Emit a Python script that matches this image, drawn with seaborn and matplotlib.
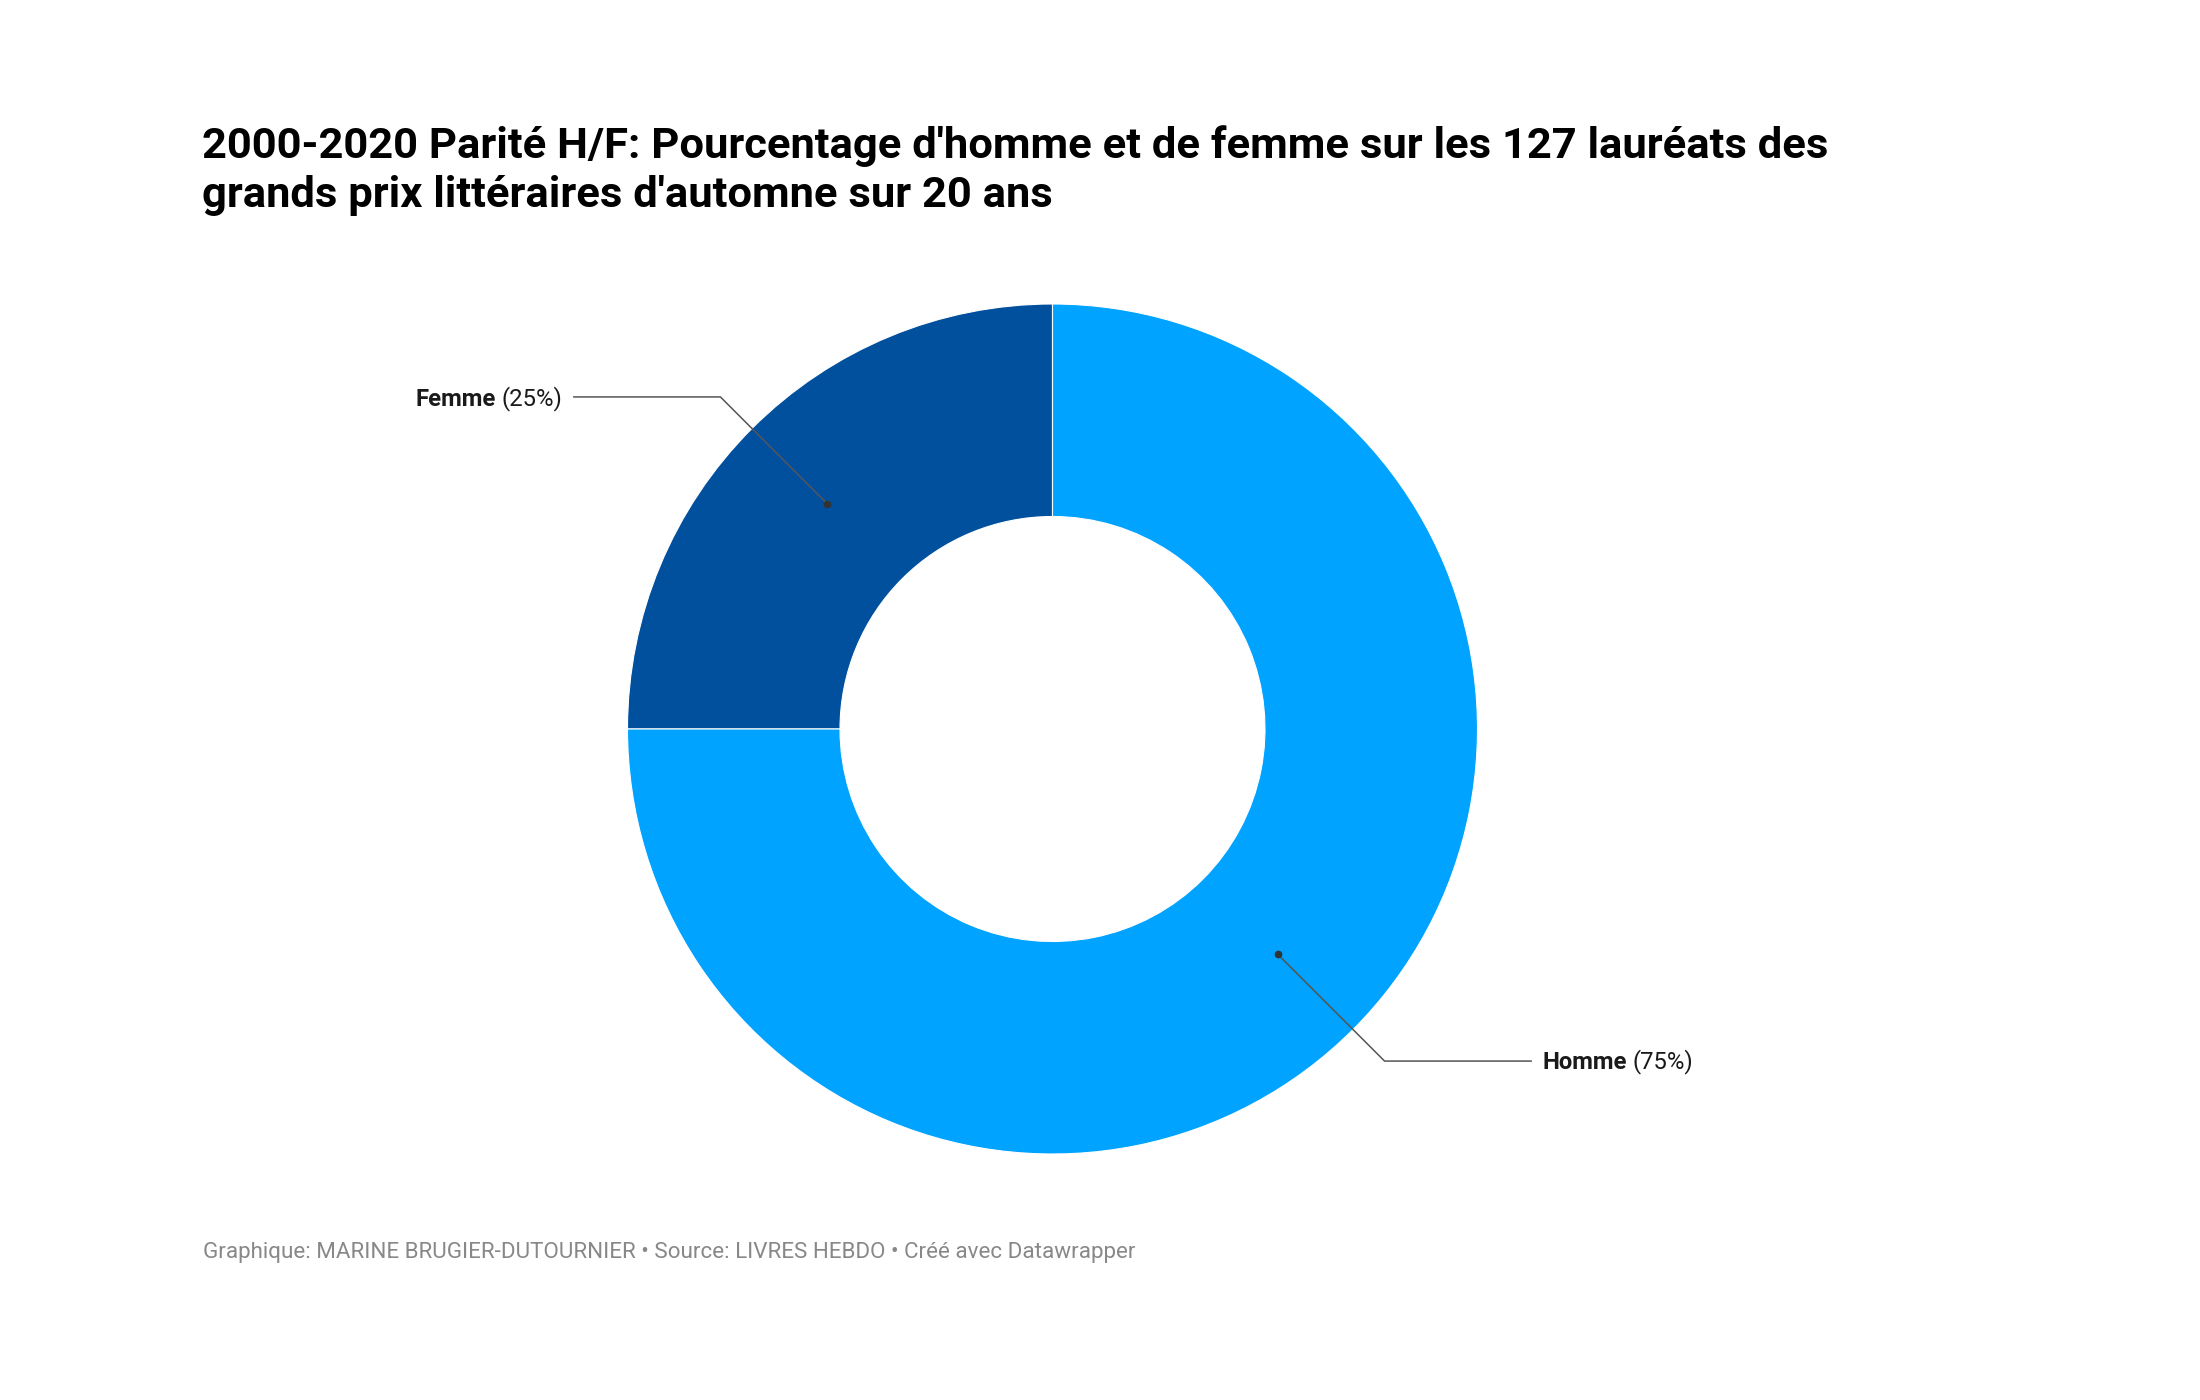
"""
Donut chart: share of men and women among the 127 autumn literary prize winners (2000-2020).
"""

import numpy as np
import matplotlib
matplotlib.use("Agg")
import matplotlib.pyplot as plt
import seaborn as sns

# data
categories = ["Femme", "Homme"]
shares = [25, 75]
colors = ["#00509e", "#00a3ff"]

title_lines = [
    "2000-2020 Parité H/F: Pourcentage d'homme et de femme sur les 127 lauréats des",
    "grands prix littéraires d'automne sur 20 ans",
]
footer = "Graphique: MARINE BRUGIER-DUTOURNIER • Source: LIVRES HEBDO • Créé avec Datawrapper"

sns.set_theme(style="white")
plt.rcParams["font.family"] = ["Roboto", "DejaVu Sans"]

W, H = 2200, 1400
fig = plt.figure(figsize=(W / 100, H / 100), dpi=100)
fig.patch.set_facecolor("white")

# axes over the whole figure, 1 unit = donut outer radius
cx, cy, R = 1052.5, 729, 425
ax = fig.add_axes([0, 0, 1, 1])

palette = sns.color_palette(colors)
wedges, _ = ax.pie(
    shares,
    colors=palette,
    startangle=90,
    counterclock=True,
    radius=1.0,
    wedgeprops=dict(width=0.5, edgecolor="white", linewidth=0.8),
)
# pie() resets the limits, so set them afterwards
ax.set_xlim(-cx / R, (W - cx) / R)
ax.set_ylim(-(H - cy) / R, cy / R)
ax.set_aspect("equal")
ax.axis("off")

# labels with elbow leader lines
fs_lab = 17.2
for w, name, val in zip(wedges, categories, shares):
    mid = np.deg2rad((w.theta1 + w.theta2) / 2)
    dx, dy = np.cos(mid), np.sin(mid)
    p_dot = (0.75 * dx, 0.75 * dy)
    p_elb = (1.105 * dx, 1.105 * dy)
    side = np.sign(dx)
    p_end = (side * 1.128, p_elb[1])
    ax.plot([p_dot[0], p_elb[0], p_end[0]], [p_dot[1], p_elb[1], p_end[1]],
            color="#555555", lw=1.1, solid_capstyle="butt", zorder=3)
    ax.plot(*p_dot, "o", color="#333333", ms=4.5, zorder=4)

    tx = side * 1.153
    if side > 0:
        t = ax.annotate(name, xy=(tx, p_end[1]), xytext=(0, -5.8), textcoords="offset points",
                        ha="left", va="baseline", fontsize=fs_lab, fontweight="bold", color="#1a1a1a")
        ax.annotate(f"({val}%)", xy=(1, 0), xycoords=t, xytext=(4, 0), textcoords="offset points",
                    ha="left", va="bottom", fontsize=fs_lab, color="#1a1a1a")
    else:
        t = ax.annotate(f"({val}%)", xy=(tx, p_end[1]), xytext=(0, -5.8), textcoords="offset points",
                        ha="right", va="baseline", fontsize=fs_lab, color="#1a1a1a")
        ax.annotate(name, xy=(0, 0), xycoords=t, xytext=(-4, 0), textcoords="offset points",
                    ha="right", va="bottom", fontsize=fs_lab, fontweight="bold", color="#1a1a1a")

# title
fig.text(202 / W, 1 - 158 / H, title_lines[0], fontsize=31.3, fontweight="bold",
         color="#000000", va="baseline", ha="left")
fig.text(202 / W, 1 - 207 / H, title_lines[1], fontsize=31.3, fontweight="bold",
         color="#000000", va="baseline", ha="left")

# footer
fig.text(203 / W, 1 - 1258 / H, footer, fontsize=16.1, color="#888888",
         va="baseline", ha="left")

fig.savefig("out.png", dpi=100, facecolor="white")
